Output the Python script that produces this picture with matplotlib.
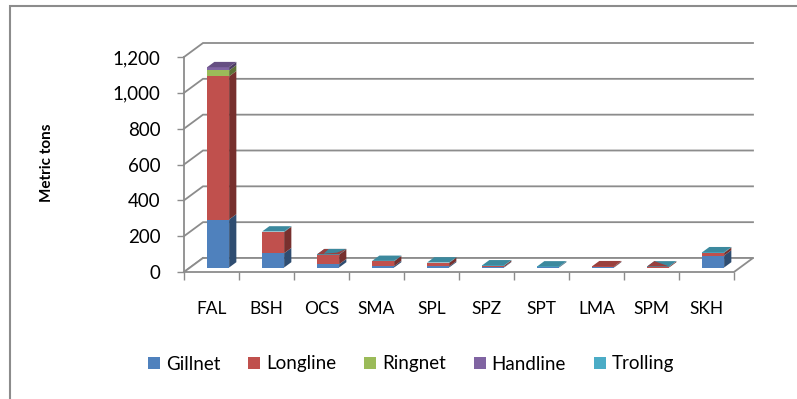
import matplotlib
matplotlib.use("Agg")
import matplotlib.pyplot as plt
from matplotlib.patches import Polygon, Rectangle
from matplotlib.lines import Line2D
import numpy as np

species = ["FAL", "BSH", "OCS", "SMA", "SPL", "SPZ", "SPT", "LMA", "SPM", "SKH"]
gillnet = [268, 80, 18, 8, 6, 3, 3, 2, 0, 67]
longline = [799, 118, 54, 27, 20, 7, 0, 5, 5, 15]
ringnet = [33, 0, 0, 0, 0, 0, 0, 0, 0, 0]
handline = [18, 0, 0, 0, 0, 0, 0, 0, 0, 0]
trolling = [0, 3, 2, 2, 2, 2, 3, 0, 1, 3]

gears = ["Gillnet", "Longline", "Ringnet", "Handline", "Trolling"]
series = [gillnet, longline, ringnet, handline, trolling]
front_cols = ["#4f81bd", "#c0504d", "#9bbb59", "#8064a2", "#4bacc6"]
side_cols = ["#2f4d71", "#77302e", "#5d7035", "#4c3c61", "#2d6776"]
top_cols = ["#3f6797", "#9a403e", "#7c9647", "#664f82", "#3c899e"]

yticks = np.arange(0, 1201, 200)
grid_col = "#8c8c8c"
W, H = 797, 399

plt.rcParams["font.family"] = ["Lato", "DejaVu Sans"]
fig = plt.figure(figsize=(W / 100, H / 100), dpi=100)

# axes cover the front plane of the 3d box
left, right, top, bottom = 184, 734, 57, 272
ax = fig.add_axes([left / W, 1 - bottom / H, (right - left) / W, (bottom - top) / H])
ax.set_xlim(0, len(species))
ax.set_ylim(0, 1200)
ax.patch.set_visible(False)
for s in ax.spines.values():
    s.set_visible(False)

# depth of the box in data units
dx = 19 / 55
dy = 14 / ((bottom - top) / 1200)

# chart border, open at the right and bottom
fig.add_artist(Line2D([10 / W, 10 / W, 1], [0, 1 - 6 / H, 1 - 6 / H], transform=fig.transFigure,
                      color=grid_col, lw=1.5, solid_joinstyle="miter"))

# back wall grid lines and the floor
for v in yticks:
    ax.plot([0, dx, len(species) + dx], [v, v + dy, v + dy], color=grid_col, lw=1.3,
            clip_on=False, zorder=1, solid_joinstyle="miter")
ax.add_patch(Polygon([(0, 0), (len(species), 0), (len(species) + dx, dy), (dx, dy)], closed=True,
                     fc="white", ec="none", clip_on=False, zorder=1.5))
ax.plot([dx, len(species) + dx, len(species), 0, dx], [dy, dy, 0, 0, dy], color=grid_col, lw=1.3,
        clip_on=False, zorder=2, solid_joinstyle="miter")
ax.plot([0, 0], [0, 1200], color=grid_col, lw=1.3, clip_on=False, zorder=2)

# stacked boxes, sitting in the middle of the depth
bar_w = 0.4
d0, d1 = 0.32, 0.70
for i in range(len(species)):
    x0 = i + 0.3 + d0 * dx + 0.01
    x1 = x0 + bar_w
    base = d0 * dy
    ddx = (d1 - d0) * dx
    ddy = (d1 - d0) * dy
    z = 3 + i
    drawn = []
    for k in range(len(series)):
        v = series[k][i]
        if v <= 0:
            continue
        ax.add_patch(Polygon([(x0, base), (x1, base), (x1, base + v), (x0, base + v)], closed=True,
                             fc=front_cols[k], ec="none", clip_on=False, zorder=z))
        ax.add_patch(Polygon([(x1, base), (x1 + ddx, base + ddy), (x1 + ddx, base + v + ddy), (x1, base + v)],
                             closed=True, fc=side_cols[k], ec="none", clip_on=False, zorder=z))
        base += v
        drawn.append(k)
    ax.add_patch(Polygon([(x0, base), (x1, base), (x1 + ddx, base + ddy), (x0 + ddx, base + ddy)], closed=True,
                         fc=top_cols[drawn[-1]], ec="none", clip_on=False, zorder=z))
    # the two top layers fight on the thinnest boxes, the red shows through
    if species[i] == "SPM":
        ax.add_patch(Polygon([(x0, base), (x1, base), (x0 + ddx, base + ddy)], closed=True,
                             fc=top_cols[1], ec="none", clip_on=False, zorder=z))
    if species[i] == "OCS":
        ax.add_patch(Polygon([(x0, base), (x1, base), (x1 + ddx, base + ddy), (x0 + ddx, base + ddy)], closed=True,
                             fc=top_cols[1], ec="none", clip_on=False, zorder=z))
        ax.add_patch(Polygon([(x0 + 0.3 * bar_w, base + 0.1 * ddy), (x1 - 0.1 * bar_w, base + 0.3 * ddy),
                              (x1 + ddx, base + ddy), (x0 + ddx + 0.2 * bar_w, base + ddy)], closed=True,
                             fc=top_cols[4], ec="none", clip_on=False, zorder=z))

# ticks: boundaries get marks, centres get the labels
ax.set_yticks(yticks)
ax.set_yticklabels([f"{v:,}" for v in yticks])
ax.set_xticks(np.arange(len(species) + 1))
ax.set_xticklabels([])
ax.set_xticks(np.arange(len(species)) + 0.5, minor=True)
ax.set_xticklabels(species, minor=True)
ax.tick_params(axis="x", which="major", length=5.5, width=1, color=grid_col)
ax.tick_params(axis="x", which="minor", length=0, labelsize=12.5, pad=21, labelcolor="black")
ax.tick_params(axis="y", length=5, width=1, color=grid_col, labelsize=13.5, pad=12)

fig.text(47 / W, 1 - 163 / H, "Metric tons", rotation=90, ha="center", va="center",
         fontsize=11, fontweight="bold")

handles = [Rectangle((0, 0), 1, 1, fc=c, ec="none") for c in front_cols]
fig.legend(handles, gears, loc="center", bbox_to_anchor=(411 / W, 1 - 364 / H), ncol=5, frameon=False,
           fontsize=13.5, handlelength=0.64, handleheight=0.64, handletextpad=0.3, columnspacing=1.5)

fig.savefig("out.png", dpi=100)
